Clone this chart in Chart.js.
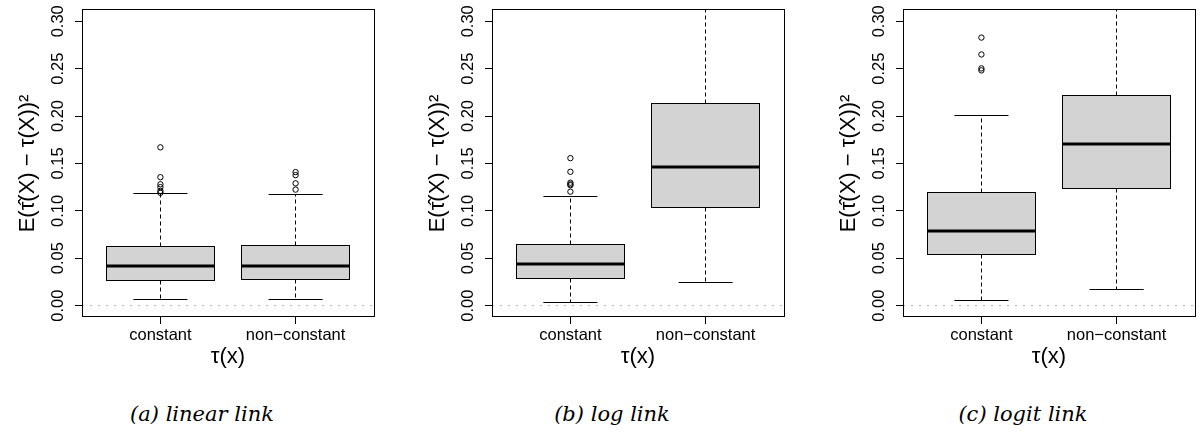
<!DOCTYPE html>
<html>
<head>
<meta charset="utf-8">
<script src="https://cdn.jsdelivr.net/npm/chart.js@4"></script>
<style>
  body { margin: 0; background: #fff; width: 1199px; height: 435px; overflow: hidden; position: relative; }
  canvas { position: absolute; top: 0; }
  .caption { position: absolute; top: 402px; width: 300px; text-align: center;
             font: italic 21px "DejaVu Serif", serif; line-height: 24px; color: #000; }
</style>
</head>
<body>
<canvas id="c0" width="379" height="372" style="left:0px"></canvas>
<canvas id="c1" width="379" height="372" style="left:410px"></canvas>
<canvas id="c2" width="379" height="372" style="left:821px"></canvas>
<div class="caption" style="left:52px">(a) linear link</div>
<div class="caption" style="left:462px">(b) log link</div>
<div class="caption" style="left:873px">(c) logit link</div>
<script>
// ===== Data =====
const groups = ["constant", "non\u2212constant"];
const yTicks = [0, 0.05, 0.10, 0.15, 0.20, 0.25, 0.30];
const refLine = 0;

// box stats per group: [lower whisker, Q1, median, Q3, upper whisker]
const linearStats = [
  [0.0066, 0.0262, 0.0423, 0.0629, 0.1180],
  [0.0066, 0.0273, 0.0416, 0.0636, 0.1175]
];
const linearOutliers = [
  [0.167, 0.1355, 0.128, 0.125, 0.121, 0.119],
  [0.1409, 0.1377, 0.129, 0.1224]
];

const logStats = [
  [0.0038, 0.0287, 0.0444, 0.0646, 0.1147],
  [0.0248, 0.1031, 0.1465, 0.2136, 0.3600]
];
const logOutliers = [
  [0.1556, 0.1412, 0.1297, 0.128, 0.127, 0.1202],
  []
];

const logitStats = [
  [0.0059, 0.0535, 0.0787, 0.1196, 0.2007],
  [0.0175, 0.1234, 0.1700, 0.2220, 0.3500]
];
const logitOutliers = [
  [0.2828, 0.265, 0.2503, 0.2482],
  []
];

const yMin = -0.012, yMax = 0.312;
const xMin = 0.42, xMax = 2.58;

// ===== Box drawing =====
function crisp(v) { return Math.round(v - 0.5) + 0.5; }

const boxPlugin = {
  id: "boxplot",
  beforeDatasetsDraw(chart, args, opts) {
    const { ctx, chartArea, scales: { x, y } } = chart;
    const line = (x1, y1, x2, y2) => { ctx.beginPath(); ctx.moveTo(x1, y1); ctx.lineTo(x2, y2); ctx.stroke(); };
    ctx.save();
    ctx.beginPath();
    ctx.rect(chartArea.left, chartArea.top, chartArea.width, chartArea.height);
    ctx.clip();
    opts.stats.forEach((s, i) => {
      const pos = i + 1;
      const xc = crisp(x.getPixelForValue(pos));
      const xl = crisp(x.getPixelForValue(pos - 0.4));
      const xr = crisp(x.getPixelForValue(pos + 0.4));
      const cl = x.getPixelForValue(pos - 0.2);
      const cr = x.getPixelForValue(pos + 0.2);
      const [lo, q1, med, q3, hi] = s.map(v => crisp(y.getPixelForValue(v)));
      ctx.strokeStyle = "#000";
      ctx.lineWidth = 1;
      // whiskers
      ctx.setLineDash([4, 3]);
      line(xc, q3, xc, hi);
      line(xc, q1, xc, lo);
      ctx.setLineDash([]);
      line(cl, hi, cr, hi);
      line(cl, lo, cr, lo);
      // box
      ctx.fillStyle = "#d3d3d3";
      ctx.fillRect(xl, q3, xr - xl, q1 - q3);
      ctx.strokeRect(xl, q3, xr - xl, q1 - q3);
      // median
      ctx.lineWidth = 3;
      line(xl, Math.round(y.getPixelForValue(s[2])), xr, Math.round(y.getPixelForValue(s[2])));
    });
    ctx.restore();
  },
  afterDatasetsDraw(chart) {
    const { ctx, chartArea } = chart;
    ctx.save();
    ctx.strokeStyle = "#000";
    ctx.lineWidth = 1;
    ctx.strokeRect(crisp(chartArea.left), crisp(chartArea.top),
      Math.round(chartArea.width), Math.round(chartArea.height));
    ctx.restore();
  }
};

function makePanel(id, stats, outliers) {
  const datasets = [{
    type: "line",
    data: [{ x: xMin, y: refLine }, { x: xMax, y: refLine }],
    borderColor: "#b0b0b0",
    borderWidth: 1,
    borderDash: [2, 6],
    pointRadius: 0
  }];
  outliers.forEach((vals, i) => {
    datasets.push({
      data: vals.map(v => ({ x: i + 1, y: v })),
      pointStyle: "circle",
      pointRadius: 2.7,
      borderColor: "#000",
      borderWidth: 1,
      backgroundColor: "rgba(0,0,0,0)"
    });
  });

  new Chart(document.getElementById(id), {
    type: "scatter",
    data: { datasets },
    plugins: [boxPlugin],
    options: {
      responsive: false,
      animation: false,
      devicePixelRatio: 1,
      layout: { padding: { top: 7, right: 1, left: 0, bottom: 0 } },
      plugins: {
        legend: { display: false },
        tooltip: { enabled: false },
        boxplot: { stats }
      },
      scales: {
        x: {
          type: "linear",
          min: xMin, max: xMax,
          afterBuildTicks: s => { s.ticks = groups.map((g, i) => ({ value: i + 1 })); },
          afterFit: s => { s.height = 55; },
          grid: { drawOnChartArea: false, drawTicks: true, tickLength: 7, color: "#000" },
          border: { display: false },
          ticks: {
            callback: v => groups[v - 1],
            color: "#000",
            padding: 2,
            maxRotation: 0,
            font: { family: "Liberation Sans", size: 16.5 }
          },
          title: {
            display: true,
            text: "\u03c4(x)",
            color: "#000",
            padding: { top: 0, bottom: 2 },
            font: { family: "Liberation Sans", size: 22 }
          }
        },
        y: {
          type: "linear",
          min: yMin, max: yMax,
          afterBuildTicks: s => { s.ticks = yTicks.map(v => ({ value: v })); },
          afterFit: s => { s.width = 82; },
          grid: { drawOnChartArea: false, drawTicks: true, tickLength: 7, color: "#000" },
          border: { display: false },
          ticks: {
            callback: v => v.toFixed(2),
            color: "#000",
            padding: 0,
            minRotation: 90,
            maxRotation: 90,
            crossAlign: "center",
            font: { family: "Liberation Sans", size: 16.5 }
          },
          title: {
            display: true,
            text: "E(\u03c4\u0302(X) \u2212 \u03c4(X))\u00b2",
            color: "#000",
            padding: { top: 15, bottom: 0 },
            font: { family: "Liberation Sans", size: 22 }
          }
        }
      }
    }
  });
}

makePanel("c0", linearStats, linearOutliers);
makePanel("c1", logStats, logOutliers);
makePanel("c2", logitStats, logitOutliers);
</script>
</body>
</html>
